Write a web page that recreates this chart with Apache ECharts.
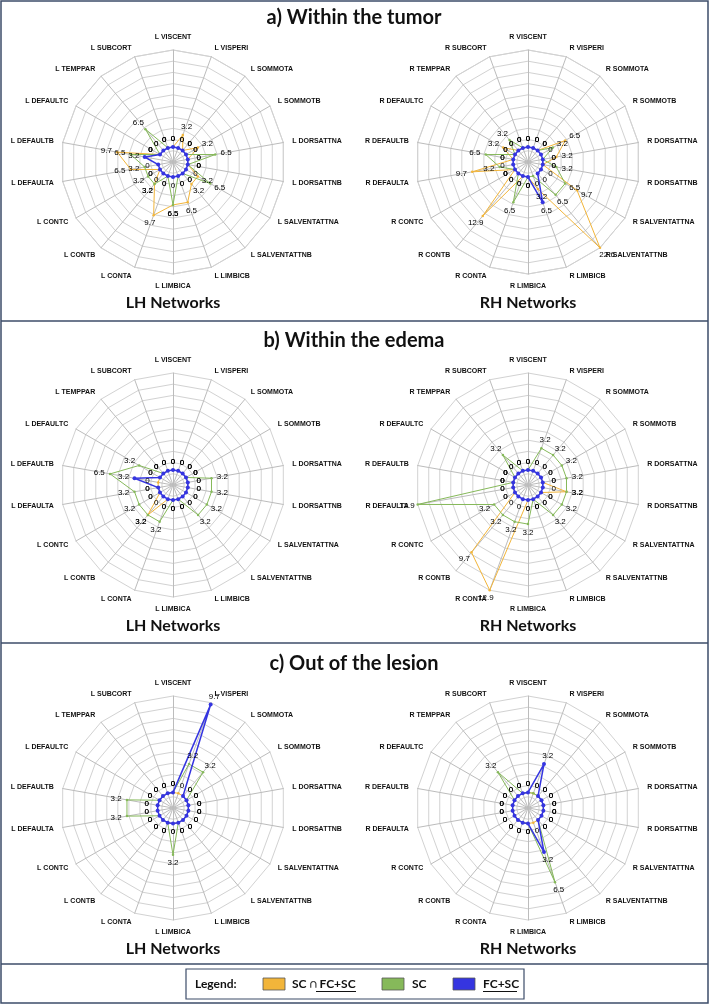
<!DOCTYPE html>
<html lang="en">
<head>
<meta charset="UTF-8">
<title>Networks radar</title>
<style>
  html, body { margin: 0; padding: 0; background: #fff; }
  #main { width: 709px; height: 1005px; }
</style>
<script src="https://cdn.jsdelivr.net/npm/echarts@6/dist/echarts.min.js"></script>
</head>
<body>
<div id="main"></div>
<script>
// network names, clockwise from the top
var networks = ['VISCENT', 'VISPERI', 'SOMMOTA', 'SOMMOTB', 'DORSATTNA', 'DORSATTNB',
    'SALVENTATTNA', 'SALVENTATTNB', 'LIMBICB', 'LIMBICA', 'CONTA', 'CONTB', 'CONTC',
    'DEFAULTA', 'DEFAULTB', 'DEFAULTC', 'TEMPPAR', 'SUBCORT'];
var panelTitles = ['a) Within the tumor', 'b) Within the edema', 'c) Out of the lesion'];
var hemiTitles = ['LH Networks', 'RH Networks'];
var seriesNames = ['SC \u2229 FC+SC', 'SC', 'FC+SC'];

// a) within the tumor
var tumorL_both = [0, 3.2, 0, 3.2, 0, 0, 3.2, 3.2, 6.5, 6.5, 9.7, 3.2, 0, 6.5, 9.7, 0, 0, 0];
var tumorL_sc   = [0, 0, 0, 0, 6.5, 0, 6.5, 0, 0, 6.5, 0, 3.2, 3.2, 3.2, 6.5, 0, 6.5, 0];
var tumorL_fc   = [0, 0, 0, 0, 0, 0, 0, 0, 0, 0, 0, 0, 0, 0, 3.2, 0, 0, 0];
var tumorR_both = [0, 0, 0, 6.5, 3.2, 0, 9.7, 22.6, 3.2, 0, 0, 12.9, 0, 9.7, 0, 3.2, 0, 0];
var tumorR_sc   = [0, 0, 0, 3.2, 0, 3.2, 6.5, 6.5, 0, 0, 6.5, 0, 0, 3.2, 6.5, 0, 3.2, 0];
var tumorR_fc   = [0, 0, 0, 0, 0, 0, 0, 0, 6.5, 0, 0, 0, 0, 0, 0, 0, 0, 0];
// b) within the edema
var edemaL_both = [0, 0, 0, 0, 0, 0, 0, 0, 0, 0, 0, 3.2, 0, 0, 0, 0, 0, 0];
var edemaL_sc   = [0, 0, 0, 0, 3.2, 3.2, 3.2, 3.2, 0, 0, 3.2, 3.2, 3.2, 3.2, 6.5, 3.2, 0, 0];
var edemaL_fc   = [0, 0, 0, 0, 0, 0, 0, 0, 0, 0, 0, 0, 0, 0, 3.2, 0, 0, 0];
var edemaR_both = [0, 0, 0, 0, 0, 3.2, 0, 0, 0, 0, 12.9, 9.7, 0, 0, 0, 0, 0, 0];
var edemaR_sc   = [0, 3.2, 3.2, 3.2, 3.2, 3.2, 3.2, 3.2, 0, 3.2, 3.2, 3.2, 3.2, 12.9, 0, 0, 3.2, 0];
var edemaR_fc   = [0, 0, 0, 0, 0, 0, 0, 0, 0, 0, 0, 0, 0, 0, 0, 0, 0, 0];
// c) out of the lesion
var outL_both = [0, 0, 0, 0, 0, 0, 0, 0, 0, 0, 0, 0, 0, 0, 0, 0, 0, 0];
var outL_sc   = [0, 3.2, 3.2, 0, 0, 0, 0, 0, 0, 3.2, 0, 0, 0, 3.2, 3.2, 0, 0, 0];
var outL_fc   = [0, 9.7, 0, 0, 0, 0, 0, 0, 0, 0, 0, 0, 0, 0, 0, 0, 0, 0];
var outR_both = [0, 0, 0, 0, 0, 0, 0, 0, 0, 0, 0, 0, 0, 0, 0, 0, 0, 0];
var outR_sc   = [0, 0, 0, 0, 0, 0, 0, 0, 6.5, 0, 0, 0, 0, 0, 0, 0, 3.2, 0];
var outR_fc   = [0, 3.2, 0, 0, 0, 0, 0, 0, 3.2, 0, 0, 0, 0, 0, 0, 0, 0, 0];

// radial scale of each row
var rowMin = [-3.5, -2.0, -1.6];
var rowMax = [22.6, 12.9, 9.9];

var panels = [
    [tumorL_both, tumorL_sc, tumorL_fc], [tumorR_both, tumorR_sc, tumorR_fc],
    [edemaL_both, edemaL_sc, edemaL_fc], [edemaR_both, edemaR_sc, edemaR_fc],
    [outL_both, outL_sc, outL_fc], [outR_both, outR_sc, outR_fc]
];

var colors = ['#f2b53a', '#86b95a', '#3535e0'];
var lineWidths = [1, 1, 1.5];
var symbolSizes = [2.5, 2.5, 4];
var drawOrder = [1, 0, 2];

var colX = [173, 528];
var rowY = [162, 485, 808];
var R = 112;
var border = '#3d4c69';

// ECharts radar runs counter-clockwise, so feed indicators in reverse
var order = [0];
for (var k = networks.length - 1; k >= 1; k--) order.push(k);

var radars = [], polars = [], angleAxes = [], radiusAxes = [], series = [];

panels.forEach(function (panel, p) {
    var row = Math.floor(p / 2), col = p % 2;
    var prefix = col === 0 ? 'L ' : 'R ';
    var center = [colX[col], rowY[row]];
    radars.push({
        center: center,
        radius: R,
        startAngle: 90,
        splitNumber: 10,
        shape: 'polygon',
        nameGap: 9,
        indicator: order.map(function (i) {
            return { name: prefix + networks[i], min: rowMin[row], max: rowMax[row] };
        }),
        axisName: { color: '#111', fontSize: 7, fontWeight: 'bold', fontFamily: 'Liberation Sans' },
        splitLine: { lineStyle: { color: '#d2d2d2', width: 1 } },
        splitArea: { show: false },
        axisLine: { lineStyle: { color: '#bcbcbc', width: 1 } }
    });
    polars.push({ center: center, radius: R });
    angleAxes.push({
        polarIndex: p, type: 'category', data: networks, startAngle: 90, clockwise: true,
        boundaryGap: false, axisLine: { show: false }, axisTick: { show: false },
        axisLabel: { show: false }, splitLine: { show: false }
    });
    radiusAxes.push({
        polarIndex: p, min: rowMin[row], max: rowMax[row], axisLine: { show: false },
        axisTick: { show: false }, axisLabel: { show: false }, splitLine: { show: false }
    });

    drawOrder.forEach(function (s) {
        var vals = panel[s];
        series.push({
            type: 'radar', radarIndex: p, name: seriesNames[s], silent: true,
            symbol: 'circle', symbolSize: symbolSizes[s], z: 3 + s,
            lineStyle: { color: colors[s], width: lineWidths[s] },
            itemStyle: { color: colors[s] },
            data: [{ value: order.map(function (i) { return vals[i]; }) }]
        });
        // value labels pushed outward along each spoke
        series.push({
            type: 'scatter', coordinateSystem: 'polar', polarIndex: p, silent: true,
            symbolSize: 1, itemStyle: { color: '#fff', opacity: 0 }, z: 8,
            label: {
                show: true, position: 'inside', fontSize: 8, color: '#000', opacity: 1,
                fontFamily: 'Liberation Sans',
                formatter: function (d) { return d.value[0]; }
            },
            data: vals.map(function (v, i) {
                var a = i * 2 * Math.PI / networks.length;
                return {
                    value: [v, i],
                    label: { offset: [Math.sin(a) * 11, -Math.cos(a) * 8.5] }
                };
            })
        });
    });
});

var graphics = [
    { type: 'rect', shape: { x: 1, y: 1, width: 707, height: 1002 }, style: { fill: 'none', stroke: border, lineWidth: 1.5 } }
];
[321, 643, 964].forEach(function (y) {
    graphics.push({ type: 'line', shape: { x1: 1, y1: y, x2: 708, y2: y }, style: { stroke: border, lineWidth: 1.5 } });
});
panelTitles.forEach(function (t, r) {
    graphics.push({
        type: 'text', x: 354, y: rowY[r] - 144,
        style: { text: t, fill: '#111', font: 'bold 20px Lato', textAlign: 'center', textVerticalAlign: 'middle' }
    });
    hemiTitles.forEach(function (h, c) {
        graphics.push({
            type: 'text', x: colX[c], y: rowY[r] + 141,
            style: { text: h, fill: '#111', font: 'bold 16px Lato', textAlign: 'center', textVerticalAlign: 'middle' }
        });
    });
});

// legend box
var ly = 984;
graphics.push({ type: 'rect', shape: { x: 186, y: 969, width: 338, height: 30 }, style: { fill: '#fff', stroke: border, lineWidth: 1.2 } });
graphics.push({ type: 'text', x: 195, y: ly, style: { text: 'Legend:', fill: '#111', font: 'bold 12px Lato', textVerticalAlign: 'middle' } });
var swX = [263, 382, 453];
var txX = [292, 412, 483];
seriesNames.forEach(function (n, s) {
    graphics.push({ type: 'rect', shape: { x: swX[s], y: ly - 6, width: 22, height: 12 }, style: { fill: colors[s], stroke: '#555', lineWidth: 0.8 } });
    graphics.push({ type: 'text', x: txX[s], y: ly, style: { text: n, fill: '#111', font: 'bold 12px Lato', textVerticalAlign: 'middle' } });
});
// "FC+SC" is underlined in the legend
graphics.push({ type: 'line', shape: { x1: 316, y1: ly + 7.5, x2: 356, y2: ly + 7.5 }, style: { stroke: '#111', lineWidth: 1 } });
graphics.push({ type: 'line', shape: { x1: 483, y1: ly + 7.5, x2: 517, y2: ly + 7.5 }, style: { stroke: '#111', lineWidth: 1 } });

var myChart = echarts.init(document.getElementById('main'));
myChart.setOption({
    backgroundColor: '#fff',
    animation: false,
    radar: radars,
    polar: polars,
    angleAxis: angleAxes,
    radiusAxis: radiusAxes,
    series: series,
    graphic: graphics
});
</script>
</body>
</html>
